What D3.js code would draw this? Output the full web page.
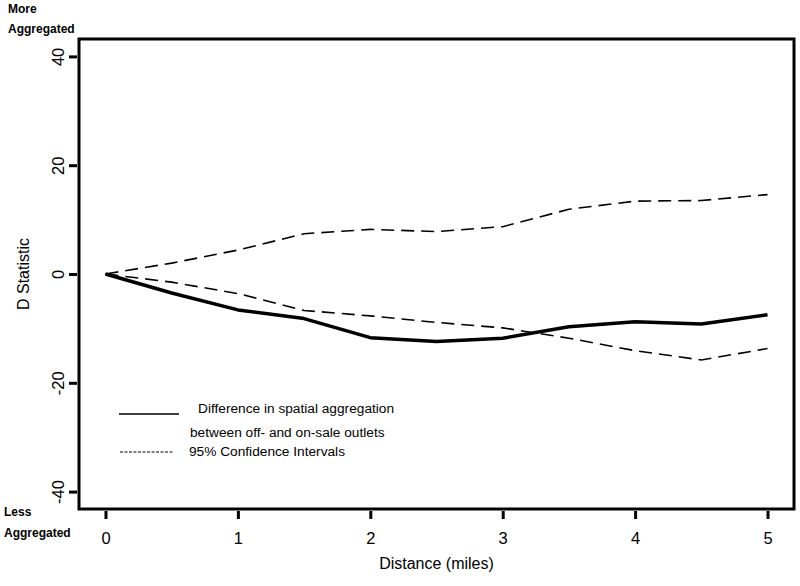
<!DOCTYPE html>
<html>
<head>
<meta charset="utf-8">
<script src="https://cdn.jsdelivr.net/npm/d3@7.9.0/dist/d3.min.js"></script>
<style>
  body { margin: 0; background: #fff; }
  svg { display: block; font-family: "Liberation Sans", Arial, sans-serif; }
</style>
</head>
<body>
<svg width="800" height="586"></svg>
<script>
// data
const distance = [0, 0.5, 1, 1.5, 2, 2.5, 3, 3.5, 4, 4.5, 5];
const dStat    = [0, -3.5, -6.6, -8.2, -11.7, -12.4, -11.8, -9.7, -8.8, -9.2, -7.5];
const ciUpper  = [0, 2.0, 4.4, 7.4, 8.2, 7.8, 8.7, 11.9, 13.4, 13.5, 14.6];
const ciLower  = [0, -1.5, -3.6, -6.7, -7.7, -8.9, -9.9, -11.8, -14.1, -15.8, -13.7];
const xTicks = [0, 1, 2, 3, 4, 5];
const yTicks = [-40, -20, 0, 20, 40];

const svg = d3.select("svg");
// plot box edges
const boxL = 79, boxR = 794, boxT = 39, boxB = 509;

// R style: limits padded by 4%
const x = d3.scaleLinear().domain([-0.2, 5.2]).range([boxL, boxR]);
const y = d3.scaleLinear().domain([-43.2, 43.2]).range([boxB, boxT]);

const line = (vals) => d3.line()
  .x((d, i) => x(distance[i]))
  .y((d) => y(d))(vals);

// lines
svg.append("path").attr("d", line(ciUpper))
  .attr("fill", "none").attr("stroke", "#000").attr("stroke-width", 1.6)
  .attr("stroke-dasharray", "13,7");
svg.append("path").attr("d", line(ciLower))
  .attr("fill", "none").attr("stroke", "#000").attr("stroke-width", 1.6)
  .attr("stroke-dasharray", "13,7");
svg.append("path").attr("d", line(dStat))
  .attr("fill", "none").attr("stroke", "#000").attr("stroke-width", 3.5)
  .attr("stroke-linejoin", "round");

// box
svg.append("rect")
  .attr("x", boxL).attr("y", boxT)
  .attr("width", boxR - boxL).attr("height", boxB - boxT)
  .attr("fill", "none").attr("stroke", "#000").attr("stroke-width", 3);

// x axis (ticks start just below box)
const xAxis = svg.append("g").attr("transform", `translate(0,${boxB + 2})`)
  .call(d3.axisBottom(x).tickValues(xTicks).tickFormat(d3.format("d"))
    .tickSize(8).tickPadding(13));
xAxis.select(".domain").remove();
xAxis.selectAll("line").attr("stroke-width", 3);
xAxis.selectAll("text").attr("font-size", 16.5).attr("font-family", null);

// y axis with rotated labels
const yAxis = svg.append("g").attr("transform", `translate(${boxL - 2},0)`)
  .call(d3.axisLeft(y).tickValues(yTicks).tickSize(8));
yAxis.select(".domain").remove();
yAxis.selectAll("line").attr("stroke-width", 3);
yAxis.selectAll("text").remove();
yAxis.selectAll(".tick").append("text")
  .attr("transform", "translate(-19,0) rotate(-90)")
  .attr("text-anchor", "middle")
  .attr("dy", "0.35em")
  .attr("fill", "#000")
  .attr("font-size", 16.5)
  .text((d) => d);

// axis titles
svg.append("text").attr("x", (boxL + boxR) / 2).attr("y", 569)
  .attr("text-anchor", "middle").attr("font-size", 16).text("Distance (miles)");
svg.append("text")
  .attr("transform", `translate(29,${(boxT + boxB) / 2}) rotate(-90)`)
  .attr("text-anchor", "middle").attr("font-size", 16).text("D Statistic");

// corner notes
const notes = [["More", 8, 13], ["Aggregated", 8, 33], ["Less", 4, 516], ["Aggregated", 4, 537]];
notes.forEach(([t, nx, ny]) => {
  svg.append("text").attr("x", nx).attr("y", ny)
    .attr("font-size", 12).attr("font-weight", "bold").text(t);
});

// legend
svg.append("line").attr("x1", 119).attr("x2", 179).attr("y1", 414).attr("y2", 414)
  .attr("stroke", "#000").attr("stroke-width", 1.6);
svg.append("line").attr("x1", 120).attr("x2", 173).attr("y1", 452).attr("y2", 452)
  .attr("stroke", "#000").attr("stroke-width", 1).attr("stroke-dasharray", "3,1.5");
svg.append("text").attr("x", 198).attr("y", 413).attr("font-size", 13.7)
  .text("Difference in spatial aggregation");
svg.append("text").attr("x", 190).attr("y", 437).attr("font-size", 13.7)
  .text("between off- and on-sale outlets");
svg.append("text").attr("x", 189).attr("y", 456).attr("font-size", 13.7)
  .text("95% Confidence Intervals");
</script>
</body>
</html>
